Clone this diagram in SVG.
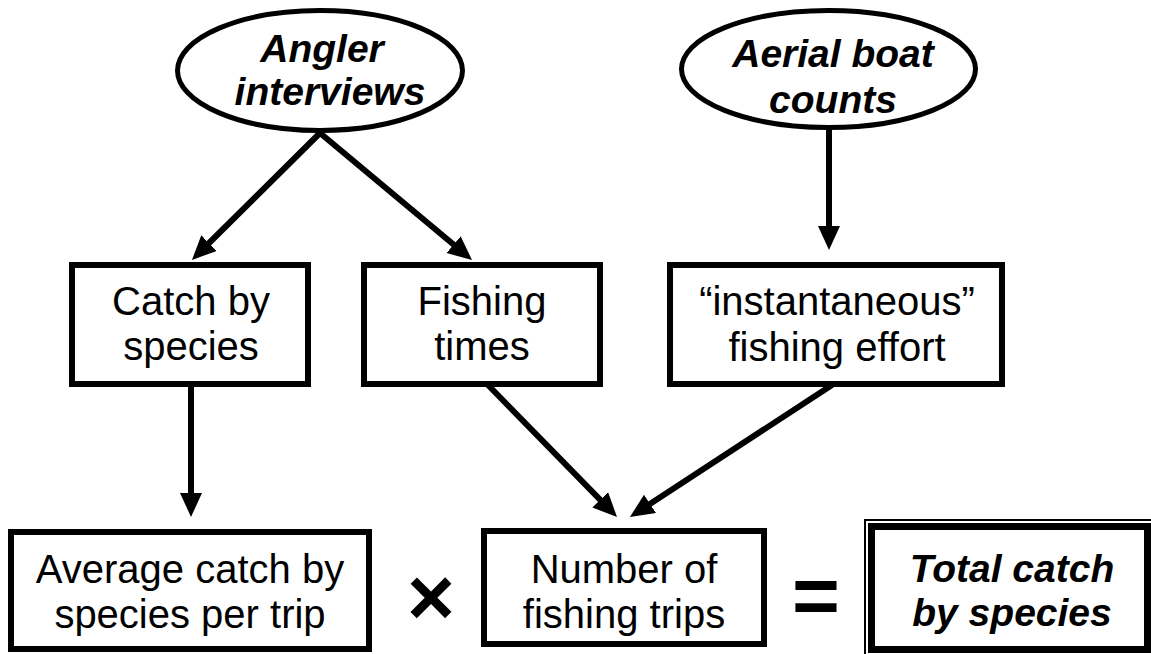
<svg xmlns="http://www.w3.org/2000/svg" width="1151" height="654" viewBox="0 0 1151 654">
  <style>
    .box { fill: #fff; stroke: #000; stroke-width: 6; }
    .ell { fill: #fff; stroke: #000; stroke-width: 5; }
    .t { font-family: "Liberation Sans", Arial, sans-serif; font-size: 40px; fill: #000; text-anchor: middle; }
    .bi { font-family: "Liberation Sans", Arial, sans-serif; font-size: 39px; font-weight: bold; font-style: italic; fill: #000; text-anchor: middle; }
    .op { font-family: "Liberation Sans", Arial, sans-serif; font-size: 82px; font-weight: bold; fill: #000; text-anchor: middle; }
    .conn line { stroke: #000; stroke-width: 6; }
  </style>
  <defs>
    <marker id="ah" markerUnits="userSpaceOnUse" markerWidth="26" markerHeight="24" refX="12" refY="11" orient="auto">
      <path d="M0,0 L24,11 L0,22 z" fill="#000"/>
    </marker>
  </defs>
  <rect width="1151" height="654" fill="#fff"/>

  <g id="connectors" class="conn">
    <line x1="320" y1="133" x2="200.5" y2="251.5" marker-end="url(#ah)"/>
    <line x1="320" y1="133" x2="462.8" y2="252.3" marker-end="url(#ah)"/>
    <line x1="829" y1="130" x2="829" y2="238" marker-end="url(#ah)"/>
    <line x1="191" y1="387" x2="191" y2="505" marker-end="url(#ah)"/>
    <line x1="488" y1="385" x2="608.6" y2="508.4" marker-end="url(#ah)"/>
    <line x1="832" y1="385" x2="640" y2="510.4" marker-end="url(#ah)"/>
  </g>

  <g id="angler">
    <ellipse class="ell" cx="320" cy="70.5" rx="142.5" ry="60"/>
    <text class="bi" x="322" y="62">Angler</text>
    <text class="bi" x="330" y="105">interviews</text>
  </g>

  <g id="aerial">
    <ellipse class="ell" cx="828.5" cy="69" rx="147" ry="58.5"/>
    <text class="bi" x="833" y="67">Aerial boat</text>
    <text class="bi" x="833" y="113">counts</text>
  </g>

  <g id="catch">
    <rect class="box" x="72" y="265" width="236" height="119"/>
    <text class="t" x="191" y="315">Catch by</text>
    <text class="t" x="191" y="360">species</text>
  </g>

  <g id="fishing-times">
    <rect class="box" x="364" y="265" width="236" height="119"/>
    <text class="t" x="482" y="315">Fishing</text>
    <text class="t" x="482" y="360">times</text>
  </g>

  <g id="effort">
    <rect class="box" x="670" y="265" width="332" height="119"/>
    <text class="t" x="837" y="315">“instantaneous”</text>
    <text class="t" x="837" y="361">fishing effort</text>
  </g>

  <g id="average">
    <rect class="box" x="11" y="532" width="358" height="117"/>
    <text class="t" x="190" y="583">Average catch by</text>
    <text class="t" x="190" y="628">species per trip</text>
  </g>

  <g id="times-sign">
    <text class="op" x="431" y="625">×</text>
  </g>

  <g id="trips">
    <rect class="box" x="484" y="531" width="280" height="113"/>
    <text class="t" x="624" y="583">Number of</text>
    <text class="t" x="624" y="628">fishing trips</text>
  </g>

  <g id="equals-sign">
    <text class="op" x="816" y="624">=</text>
  </g>

  <g id="total">
    <rect x="865" y="520" width="300" height="200" fill="none" stroke="#000" stroke-width="2"/>
    <rect x="871.5" y="526.5" width="276" height="123" fill="#fff" stroke="#000" stroke-width="7"/>
    <text class="bi" x="1012" y="582">Total catch</text>
    <text class="bi" x="1012" y="626">by species</text>
  </g>
</svg>
